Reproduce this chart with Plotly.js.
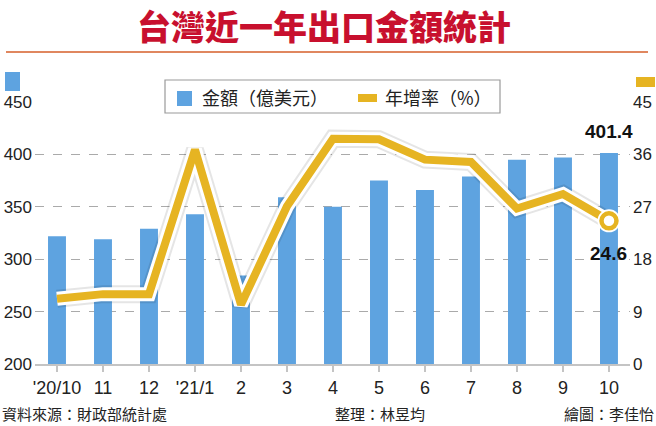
<!DOCTYPE html>
<html>
<head>
<meta charset="utf-8">
<script src="https://cdn.plot.ly/plotly-3.0.1.min.js"></script>
<style>
  html, body { margin: 0; padding: 0; background: #fff; }
  #chart { width: 656px; height: 426px; }
</style>
</head>
<body>
<div id="chart"></div>
<script>
// Data
const months = ["'20/10", "11", "12", "'21/1", "2", "3", "4", "5", "6", "7", "8", "9", "10"];
const exportValue = [322, 319, 329, 343, 284.5, 359, 350, 375, 366, 379, 395, 397, 401.4]; // 億美元
const yoyGrowth = [11.2, 12.0, 12.0, 36.8, 10.2, 27.1, 38.7, 38.6, 35.1, 34.7, 26.7, 29.2, 24.6]; // %
const leftTicks = [200, 250, 300, 350, 400, 450];
const rightTicks = [0, 9, 18, 27, 36, 45];

const blue = "#5ea3e0";
const gold = "#e6b422";
const textFont = "Liberation Sans, Arial, Noto Sans CJK TC, sans-serif";
const cjkFont = "Noto Sans CJK TC, sans-serif";

// plot area in pixels: x 35..630, y 102..364
const plotL = 35, plotR = 630, plotT = 102, plotB = 364;
const px = (x) => (x - plotL) / (plotR - plotL);
const py = (y) => (plotB - y) / (plotB - plotT);

const last = months.length - 1;

const traces = [
  {
    x: months, y: exportValue, type: "bar",
    marker: { color: blue }, width: 0.39,
    hoverinfo: "skip",
  },
  {
    x: months, y: yoyGrowth, yaxis: "y2", mode: "lines",
    line: { color: "rgba(0,0,0,0.10)", width: 18 },
    hoverinfo: "skip",
  },
  {
    x: months, y: yoyGrowth, yaxis: "y2", mode: "lines",
    line: { color: "#ffffff", width: 14 },
    hoverinfo: "skip",
  },
  {
    x: months, y: yoyGrowth, yaxis: "y2", mode: "lines",
    line: { color: gold, width: 8 },
    hoverinfo: "skip",
  },
  {
    x: [months[last]], y: [yoyGrowth[last]], yaxis: "y2", mode: "markers",
    marker: { color: "#ffffff", size: 23 },
    hoverinfo: "skip",
  },
  {
    x: [months[last]], y: [yoyGrowth[last]], yaxis: "y2", mode: "markers",
    marker: { color: "#ffffff", size: 15, line: { color: gold, width: 4.5 } },
    hoverinfo: "skip",
  },
];

const layout = {
  width: 656, height: 426,
  margin: { l: plotL, r: 656 - plotR, t: plotT, b: 426 - plotB },
  paper_bgcolor: "#fff", plot_bgcolor: "#fff",
  showlegend: false,
  font: { family: textFont, size: 18, color: "#222" },
  xaxis: {
    type: "category",
    range: [-0.478, 12.457],
    showgrid: false,
    showline: true, linecolor: "#c4c4c4", linewidth: 2,
    ticks: "outside", ticklen: 6, tickcolor: "#c4c4c4", tickwidth: 1.5,
    tickfont: { family: textFont, size: 18, color: "#222" },
    fixedrange: true,
  },
  yaxis: {
    range: [200, 450],
    tickvals: leftTicks,
    showgrid: true, gridcolor: "#aaaaaa", griddash: "dash", gridwidth: 1,
    zeroline: false, showline: false,
    tickfont: { family: textFont, size: 17, color: "#222" },
    ticklabelstandoff: 2,
    fixedrange: true,
  },
  yaxis2: {
    overlaying: "y", side: "right",
    range: [0, 45],
    tickvals: rightTicks,
    showgrid: false, zeroline: false, showline: false,
    tickfont: { family: textFont, size: 17, color: "#222" },
    ticklabelstandoff: 2,
    fixedrange: true,
  },
  shapes: [
    // rule under the title
    { type: "line", xref: "paper", yref: "paper", x0: px(6), x1: px(648), y0: py(52), y1: py(52),
      line: { color: "#e0875f", width: 2 } },
    // axis colour keys
    { type: "rect", xref: "paper", yref: "paper", x0: px(5), x1: px(20), y0: py(72), y1: py(91),
      fillcolor: blue, line: { width: 0 } },
    { type: "rect", xref: "paper", yref: "paper", x0: px(636), x1: px(655), y0: py(77), y1: py(87),
      fillcolor: gold, line: { width: 0 } },
    // legend box
    { type: "rect", xref: "paper", yref: "paper", layer: "above", x0: px(165), x1: px(500), y0: py(80), y1: py(113),
      fillcolor: "#fff", line: { color: "#9a9a9a", width: 1.2 } },
    { type: "rect", xref: "paper", yref: "paper", layer: "above", x0: px(177), x1: px(192), y0: py(91), y1: py(106),
      fillcolor: blue, line: { width: 0 } },
    { type: "rect", xref: "paper", yref: "paper", layer: "above", x0: px(358), x1: px(377), y0: py(94), y1: py(102),
      fillcolor: gold, line: { width: 0 } },
  ],
  annotations: [
    { text: "台灣近一年出口金額統計", xref: "paper", yref: "paper", x: px(324), y: py(0),
      showarrow: false, xanchor: "center", yanchor: "top", borderpad: 0,
      font: { family: cjkFont, size: 34, color: "#c8102e", weight: 900 } },
    { text: "金額（億美元）", xref: "paper", yref: "paper", x: px(200), y: py(97),
      showarrow: false, xanchor: "left", yanchor: "middle",
      font: { family: cjkFont, size: 18, color: "#222" } },
    { text: "年增率（%）", xref: "paper", yref: "paper", x: px(383), y: py(97),
      showarrow: false, xanchor: "left", yanchor: "middle",
      font: { family: cjkFont, size: 18, color: "#222" } },
    { text: exportValue[last].toFixed(1), x: last, y: exportValue[last], xref: "x", yref: "y",
      showarrow: false, yanchor: "bottom", yshift: 9,
      font: { family: textFont, size: 19, color: "#111", weight: "bold" } },
    { text: yoyGrowth[last].toFixed(1), x: last, y: yoyGrowth[last], xref: "x", yref: "y2",
      showarrow: false, yanchor: "top", yshift: -20,
      font: { family: textFont, size: 19, color: "#111", weight: "bold" } },
    { text: "資料來源：財政部統計處", xref: "paper", yref: "paper", x: px(0), y: py(413),
      showarrow: false, xanchor: "left", yanchor: "middle",
      font: { family: cjkFont, size: 15, color: "#222" } },
    { text: "整理：林昱均", xref: "paper", yref: "paper", x: px(380), y: py(413),
      showarrow: false, xanchor: "center", yanchor: "middle",
      font: { family: cjkFont, size: 15, color: "#222" } },
    { text: "繪圖：李佳怡", xref: "paper", yref: "paper", x: px(656), y: py(413),
      showarrow: false, xanchor: "right", yanchor: "middle",
      font: { family: cjkFont, size: 15, color: "#222" } },
  ],
};

Plotly.newPlot("chart", traces, layout, { staticPlot: true, displayModeBar: false });
</script>
</body>
</html>
